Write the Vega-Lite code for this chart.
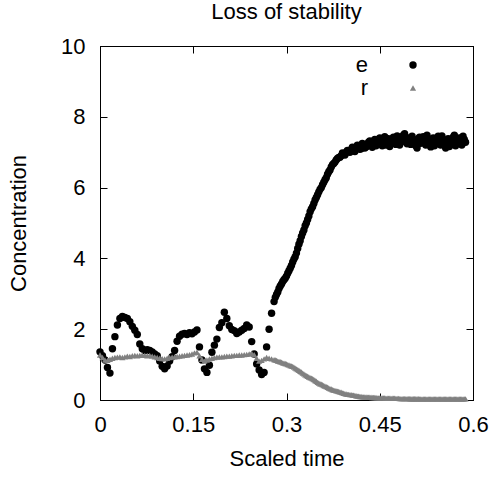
{
  "$schema": "https://vega.github.io/schema/vega-lite/v6.json",
  "width": 373,
  "height": 354,
  "autosize": {"type": "none"},
  "padding": {"left": 100, "top": 46, "right": 21, "bottom": 77},
  "title": {"text": "Loss of stability", "fontSize": 22, "font": "Liberation Sans", "fontWeight": "normal", "color": "black", "offset": 11},
  "data": {"values": [
    {"t":0.000,"e":1.36,"r":1.27},{"t":0.004,"e":1.25,"r":1.20},{"t":0.008,"e":1.13,"r":1.13},{"t":0.012,"e":0.92,"r":1.12},
    {"t":0.016,"e":0.76,"r":1.15},{"t":0.020,"e":1.45,"r":1.18},{"t":0.024,"e":1.79,"r":1.20},{"t":0.028,"e":2.12,"r":1.21},
    {"t":0.032,"e":2.30,"r":1.22},{"t":0.036,"e":2.36,"r":1.20},{"t":0.040,"e":2.33,"r":1.22},{"t":0.044,"e":2.30,"r":1.24},
    {"t":0.048,"e":2.21,"r":1.23},{"t":0.052,"e":2.08,"r":1.25},{"t":0.056,"e":1.97,"r":1.26},{"t":0.060,"e":1.85,"r":1.25},
    {"t":0.064,"e":1.58,"r":1.26},{"t":0.068,"e":1.45,"r":1.27},{"t":0.072,"e":1.40,"r":1.26},{"t":0.076,"e":1.42,"r":1.25},
    {"t":0.080,"e":1.40,"r":1.26},{"t":0.084,"e":1.36,"r":1.24},{"t":0.088,"e":1.30,"r":1.22},{"t":0.092,"e":1.25,"r":1.20},
    {"t":0.096,"e":1.10,"r":1.18},{"t":0.100,"e":0.95,"r":1.17},{"t":0.104,"e":0.88,"r":1.16},{"t":0.108,"e":0.96,"r":1.18},
    {"t":0.112,"e":1.10,"r":1.20},{"t":0.116,"e":1.22,"r":1.21},{"t":0.120,"e":1.40,"r":1.22},{"t":0.124,"e":1.66,"r":1.23},
    {"t":0.128,"e":1.80,"r":1.24},{"t":0.132,"e":1.86,"r":1.25},{"t":0.136,"e":1.88,"r":1.26},{"t":0.140,"e":1.85,"r":1.27},
    {"t":0.144,"e":1.90,"r":1.28},{"t":0.148,"e":1.87,"r":1.30},{"t":0.152,"e":1.92,"r":1.33},{"t":0.156,"e":1.98,"r":1.35},
    {"t":0.160,"e":1.50,"r":1.25},{"t":0.164,"e":1.13,"r":1.15},{"t":0.168,"e":0.88,"r":1.10},{"t":0.172,"e":0.78,"r":1.13},
    {"t":0.176,"e":0.98,"r":1.16},{"t":0.180,"e":1.35,"r":1.18},{"t":0.184,"e":1.55,"r":1.20},{"t":0.188,"e":1.72,"r":1.21},
    {"t":0.192,"e":2.05,"r":1.22},{"t":0.196,"e":2.18,"r":1.22},{"t":0.200,"e":2.48,"r":1.23},{"t":0.204,"e":2.30,"r":1.24},
    {"t":0.208,"e":2.10,"r":1.24},{"t":0.212,"e":1.99,"r":1.25},{"t":0.216,"e":1.96,"r":1.26},{"t":0.220,"e":1.88,"r":1.26},
    {"t":0.224,"e":1.92,"r":1.27},{"t":0.228,"e":1.97,"r":1.27},{"t":0.232,"e":2.02,"r":1.28},{"t":0.236,"e":2.12,"r":1.29},
    {"t":0.240,"e":2.06,"r":1.30},{"t":0.244,"e":1.65,"r":1.32},{"t":0.248,"e":1.30,"r":1.28},{"t":0.252,"e":1.02,"r":1.18},
    {"t":0.256,"e":0.85,"r":1.10},{"t":0.260,"e":0.72,"r":1.12},{"t":0.264,"e":0.78,"r":1.16},{"t":0.268,"e":1.50,"r":1.20},
    {"t":0.272,"e":2.00,"r":1.18},{"t":0.276,"e":2.45,"r":1.16},{"t":0.280,"e":2.78,"r":1.14},{"t":0.284,"e":2.98,"r":1.12},
    {"t":0.288,"e":3.15,"r":1.09},{"t":0.292,"e":3.28,"r":1.07},{"t":0.296,"e":3.40,"r":1.04},{"t":0.300,"e":3.50,"r":1.02},
    {"t":0.304,"e":3.65,"r":0.99},{"t":0.308,"e":3.80,"r":0.96},{"t":0.312,"e":3.98,"r":0.93},{"t":0.316,"e":4.15,"r":0.88},
    {"t":0.320,"e":4.40,"r":0.84},{"t":0.324,"e":4.62,"r":0.79},{"t":0.328,"e":4.80,"r":0.74},{"t":0.332,"e":5.00,"r":0.69},
    {"t":0.336,"e":5.20,"r":0.65},{"t":0.340,"e":5.40,"r":0.62},{"t":0.344,"e":5.55,"r":0.58},{"t":0.348,"e":5.72,"r":0.53},
    {"t":0.352,"e":5.88,"r":0.48},{"t":0.356,"e":6.00,"r":0.45},{"t":0.360,"e":6.15,"r":0.41},{"t":0.364,"e":6.28,"r":0.38},
    {"t":0.368,"e":6.45,"r":0.34},{"t":0.372,"e":6.58,"r":0.31},{"t":0.376,"e":6.68,"r":0.28},{"t":0.380,"e":6.78,"r":0.26},
    {"t":0.384,"e":6.85,"r":0.24},{"t":0.388,"e":6.90,"r":0.22},{"t":0.392,"e":6.95,"r":0.19},{"t":0.396,"e":7.00,"r":0.17},
    {"t":0.400,"e":7.02,"r":0.16},{"t":0.404,"e":7.08,"r":0.15},{"t":0.408,"e":7.05,"r":0.14},{"t":0.412,"e":7.12,"r":0.12},
    {"t":0.416,"e":7.18,"r":0.11},{"t":0.420,"e":7.10,"r":0.10},{"t":0.424,"e":7.22,"r":0.09},{"t":0.428,"e":7.15,"r":0.09},
    {"t":0.432,"e":7.28,"r":0.08},{"t":0.436,"e":7.20,"r":0.08},{"t":0.440,"e":7.30,"r":0.07},{"t":0.444,"e":7.18,"r":0.07},
    {"t":0.448,"e":7.35,"r":0.06},{"t":0.452,"e":7.25,"r":0.06},{"t":0.456,"e":7.32,"r":0.06},{"t":0.460,"e":7.20,"r":0.055},
    {"t":0.464,"e":7.38,"r":0.05},{"t":0.468,"e":7.26,"r":0.05},{"t":0.472,"e":7.42,"r":0.05},{"t":0.476,"e":7.22,"r":0.045},
    {"t":0.480,"e":7.36,"r":0.045},{"t":0.484,"e":7.28,"r":0.04},{"t":0.488,"e":7.48,"r":0.04},{"t":0.492,"e":7.30,"r":0.04},
    {"t":0.496,"e":7.40,"r":0.04},{"t":0.500,"e":7.22,"r":0.035},{"t":0.504,"e":7.35,"r":0.035},{"t":0.508,"e":7.18,"r":0.035},
    {"t":0.512,"e":7.38,"r":0.035},{"t":0.516,"e":7.25,"r":0.03},{"t":0.520,"e":7.44,"r":0.03},{"t":0.524,"e":7.20,"r":0.03},
    {"t":0.528,"e":7.33,"r":0.03},{"t":0.532,"e":7.15,"r":0.03},{"t":0.536,"e":7.40,"r":0.03},{"t":0.540,"e":7.26,"r":0.03},
    {"t":0.544,"e":7.45,"r":0.03},{"t":0.548,"e":7.20,"r":0.03},{"t":0.552,"e":7.32,"r":0.03},{"t":0.556,"e":7.12,"r":0.03},
    {"t":0.560,"e":7.38,"r":0.03},{"t":0.564,"e":7.22,"r":0.03},{"t":0.568,"e":7.42,"r":0.03},{"t":0.572,"e":7.18,"r":0.03},
    {"t":0.576,"e":7.35,"r":0.03},{"t":0.580,"e":7.25,"r":0.03},{"t":0.584,"e":7.45,"r":0.03},{"t":0.588,"e":7.28,"r":0.03},
    {"t":0.282,"e":2.90,"r":1.13},{"t":0.286,"e":3.05,"r":1.10},{"t":0.290,"e":3.22,"r":1.08},{"t":0.294,"e":3.35,"r":1.05},
    {"t":0.298,"e":3.44,"r":1.03},{"t":0.302,"e":3.58,"r":1.00},{"t":0.306,"e":3.72,"r":0.97},{"t":0.310,"e":3.90,"r":0.95},
    {"t":0.314,"e":4.05,"r":0.90},{"t":0.318,"e":4.28,"r":0.86},{"t":0.322,"e":4.50,"r":0.81},{"t":0.326,"e":4.72,"r":0.76},
    {"t":0.330,"e":4.92,"r":0.71},{"t":0.334,"e":5.10,"r":0.67},{"t":0.338,"e":5.32,"r":0.63},{"t":0.342,"e":5.46,"r":0.60},
    {"t":0.346,"e":5.65,"r":0.55},{"t":0.350,"e":5.80,"r":0.50},{"t":0.354,"e":5.95,"r":0.46},{"t":0.358,"e":6.08,"r":0.43},
    {"t":0.362,"e":6.22,"r":0.39},{"t":0.366,"e":6.38,"r":0.36},{"t":0.370,"e":6.50,"r":0.32},{"t":0.374,"e":6.65,"r":0.29},
    {"t":0.378,"e":6.72,"r":0.27},{"t":0.382,"e":6.82,"r":0.25},{"t":0.386,"e":6.86,"r":0.23},{"t":0.390,"e":6.98,"r":0.20},
    {"t":0.394,"e":6.92,"r":0.18},{"t":0.398,"e":7.05,"r":0.16},{"t":0.402,"e":7.00,"r":0.15},{"t":0.406,"e":7.14,"r":0.14},
    {"t":0.410,"e":7.02,"r":0.13},{"t":0.414,"e":7.20,"r":0.11},{"t":0.418,"e":7.08,"r":0.10},{"t":0.422,"e":7.25,"r":0.09},
    {"t":0.426,"e":7.12,"r":0.09},{"t":0.430,"e":7.22,"r":0.08},{"t":0.434,"e":7.32,"r":0.08},{"t":0.438,"e":7.14,"r":0.07},
    {"t":0.442,"e":7.36,"r":0.07},{"t":0.446,"e":7.22,"r":0.06},{"t":0.450,"e":7.40,"r":0.06},{"t":0.454,"e":7.18,"r":0.06},
    {"t":0.458,"e":7.44,"r":0.06},{"t":0.462,"e":7.30,"r":0.05},{"t":0.466,"e":7.16,"r":0.05},{"t":0.470,"e":7.35,"r":0.05},
    {"t":0.474,"e":7.28,"r":0.05},{"t":0.478,"e":7.46,"r":0.045},{"t":0.482,"e":7.20,"r":0.04},{"t":0.486,"e":7.38,"r":0.04},
    {"t":0.490,"e":7.52,"r":0.04},{"t":0.494,"e":7.24,"r":0.04},{"t":0.498,"e":7.33,"r":0.035},{"t":0.502,"e":7.45,"r":0.035},
    {"t":0.506,"e":7.26,"r":0.035},{"t":0.510,"e":7.12,"r":0.035},{"t":0.514,"e":7.42,"r":0.03},{"t":0.518,"e":7.30,"r":0.03},
    {"t":0.522,"e":7.36,"r":0.03},{"t":0.526,"e":7.48,"r":0.03},{"t":0.530,"e":7.24,"r":0.03},{"t":0.534,"e":7.30,"r":0.03},
    {"t":0.538,"e":7.18,"r":0.03},{"t":0.542,"e":7.36,"r":0.03},{"t":0.546,"e":7.30,"r":0.03},{"t":0.550,"e":7.46,"r":0.03},
    {"t":0.554,"e":7.26,"r":0.03},{"t":0.558,"e":7.34,"r":0.03},{"t":0.562,"e":7.16,"r":0.03},{"t":0.566,"e":7.30,"r":0.03},
    {"t":0.570,"e":7.48,"r":0.03},{"t":0.574,"e":7.28,"r":0.03},{"t":0.578,"e":7.40,"r":0.03},{"t":0.582,"e":7.20,"r":0.03},
    {"t":0.586,"e":7.36,"r":0.03}
  ]},
  "transform": [{"fold": ["e", "r"], "as": ["series", "value"]}],
  "layer": [
    {
      "mark": {"type": "point", "filled": true, "opacity": 1, "strokeWidth": 0},
      "encoding": {
        "x": {"field": "t", "type": "quantitative", "scale": {"domain": [0, 0.6], "nice": false, "zero": false},
              "axis": {"orient": "bottom", "values": [0, 0.15, 0.3, 0.45, 0.6], "format": ".2~f", "title": "Scaled time"}},
        "y": {"field": "value", "type": "quantitative", "scale": {"domain": [0, 10], "nice": false},
              "axis": {"orient": "left", "values": [0, 2, 4, 6, 8, 10], "format": "d", "title": "Concentration"}},
        "color": {"field": "series", "type": "nominal", "scale": {"domain": ["e", "r"], "range": ["#000000", "#808080"]},
                  "legend": {"orient": "none", "legendX": 302, "legendY": 8, "title": null, "direction": "vertical"}},
        "shape": {"field": "series", "type": "nominal", "scale": {"domain": ["e", "r"], "range": ["circle", "triangle-up"]}},
        "size": {"field": "series", "type": "nominal", "scale": {"domain": ["e", "r"], "range": [55, 38]}},
        "order": {"field": "series", "type": "ordinal"}
      }
    },
    {
      "mark": {"type": "point", "opacity": 0},
      "encoding": {
        "x": {"field": "t", "type": "quantitative", "axis": {"orient": "top", "labels": false, "title": null, "values": [0, 0.15, 0.3, 0.45, 0.6]}},
        "y": {"field": "value", "type": "quantitative", "axis": {"orient": "right", "labels": false, "title": null, "values": [0, 2, 4, 6, 8, 10]}}
      }
    }
  ],
  "resolve": {"axis": {"x": "independent", "y": "independent"}},
  "config": {
    "view": {"stroke": "black", "strokeWidth": 1},
    "axis": {"grid": false, "domain": true, "domainColor": "black", "domainWidth": 1, "tickColor": "black", "tickWidth": 1, "tickSize": -7,
             "labelFontSize": 22, "labelFont": "Liberation Sans", "labelColor": "black", "labelFlush": false,
             "titleFontSize": 22, "titleFont": "Liberation Sans", "titleColor": "black", "titleFontWeight": "normal"},
    "axisBottom": {"labelPadding": 21, "titlePadding": 13},
    "axisLeft": {"labelPadding": 22, "titlePadding": 30},
    "legend": {"labelFontSize": 22, "labelFont": "Liberation Sans", "labelColor": "black", "labelAlign": "right", "labelOffset": -56,
               "padding": 0, "rowPadding": 1, "symbolStrokeWidth": 0, "labelLimit": 0}
  }
}
